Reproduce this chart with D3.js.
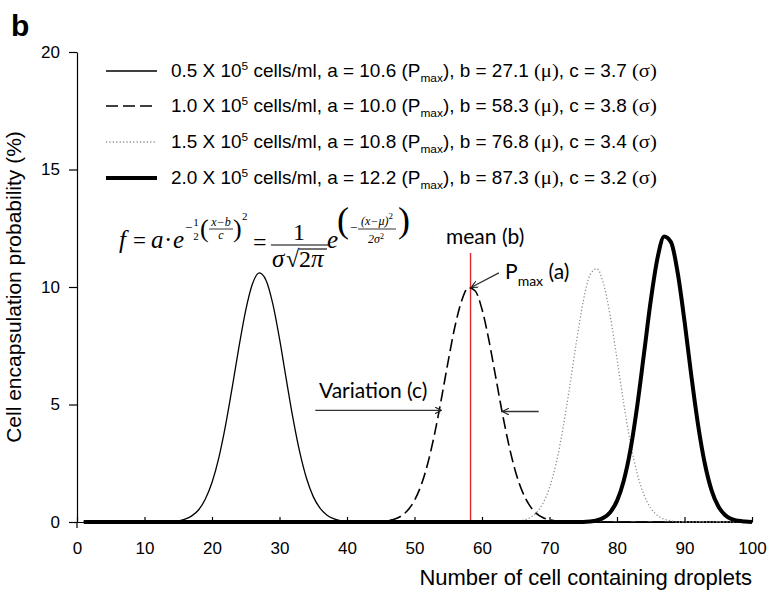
<!DOCTYPE html>
<html>
<head>
<meta charset="utf-8">
<script src="https://cdn.jsdelivr.net/npm/d3@7"></script>
<style>
  body { margin: 0; background: #fff; }
  svg { display: block; }
</style>
</head>
<body>
<script>
// legend rows
const densities  = ["0.5", "1.0", "1.5", "2.0"]
const paramA     = ["10.6", "10.0", "10.8", "12.2"]
const paramB     = ["27.1", "58.3", "76.8", "87.3"]
const paramC     = ["3.7", "3.8", "3.4", "3.2"]

// sampled curves, one point per droplet count, first x given
const start05 = 14
const vals05 = [0, 0.05, 0.12, 0.26, 0.51, 0.97, 1.68, 2.72, 4.10, 5.74, 7.46, 9.02, 10.14, 10.60,
                10.29, 9.29, 7.80, 6.08, 4.41, 2.97, 1.86, 1.08, 0.59, 0.30, 0.14, 0.06, 0.02, 0]
const start10 = 45
const vals10 = [0, 0.05, 0.12, 0.25, 0.50, 0.92, 1.58, 2.53, 3.78, 5.27, 6.86, 8.33, 9.43, 9.97,
                9.83, 9.05, 7.77, 6.22, 4.65, 3.25, 2.11, 1.28, 0.73, 0.38, 0.19, 0.09, 0.04, 0]
const start15 = 64
const vals15 = [0, 0.03, 0.07, 0.17, 0.38, 0.78, 1.46, 2.52, 3.99, 5.78, 7.69, 9.39, 10.51, 10.78,
                10.15, 8.76, 6.94, 5.04, 3.35, 2.05, 1.15, 0.59, 0.28, 0.12, 0.05, 0]
const start20 = 75
const vals20 = [0, 0.02, 0.07, 0.18, 0.42, 0.90, 1.76, 3.09, 4.95, 7.17, 9.42, 11.23, 12.15, 11.91,
                10.59, 8.55, 6.25, 4.15, 2.50, 1.36, 0.67, 0.30, 0.12, 0.05, 0.02, 0]

const xTicks = [0, 10, 20, 30, 40, 50, 60, 70, 80, 90, 100]
const yTicks = [0, 5, 10, 15, 20]

const width = 767, height = 593
const svg = d3.select("body").append("svg")
    .attr("width", width)
    .attr("height", height)

const x = d3.scaleLinear().domain([0, 100]).range([77, 752])
const y = d3.scaleLinear().domain([0, 20]).range([522, 52])

const SANS = "'Liberation Sans', Arial, sans-serif"
const SERIF = "'Liberation Serif', 'Times New Roman', serif"
const CAL = "Lato, Carlito, Calibri, sans-serif"

const styles = [
    { w: 1.3, dash: null, color: "#000" },
    { w: 1.6, dash: "12,5", color: "#000" },
    { w: 1.3, dash: "1.2,2.2", color: "#8c8c8c" },
    { w: 4, dash: null, color: "#000" }
]

const toPoints = (s, vals) => {
    const pts = vals.map((v, i) => [s + i, v])
    if (s > 1) pts.unshift([1, 0])
    if (s + vals.length - 1 < 100) pts.push([100, 0])
    return pts
}
const series = [
    toPoints(start05, vals05),
    toPoints(start10, vals10),
    toPoints(start15, vals15),
    toPoints(start20, vals20)
]

// axes
const xAxis = svg.append("g")
    .attr("transform", `translate(0,${y(0)})`)
    .call(d3.axisBottom(x).tickValues(xTicks).tickSizeInner(-5).tickSizeOuter(0).tickPadding(20))
const yAxis = svg.append("g")
    .attr("transform", `translate(${x(0)},0)`)
    .call(d3.axisLeft(y).tickValues(yTicks).tickSizeInner(8).tickSizeOuter(0).tickPadding(9))

svg.selectAll(".domain").attr("stroke", "#000").attr("stroke-width", 1.2)
svg.selectAll(".tick line").attr("stroke", "#000").attr("stroke-width", 1.2)
svg.selectAll(".tick text").attr("font-family", SANS).attr("font-size", 17).attr("fill", "#000")
xAxis.selectAll(".tick text").attr("dy", "0.71em")

// y axis pokes a bit below the baseline
svg.append("line")
    .attr("x1", x(0)).attr("x2", x(0))
    .attr("y1", y(0)).attr("y2", y(0) + 6)
    .attr("stroke", "#000").attr("stroke-width", 1.2)

// red mean line
svg.append("line")
    .attr("x1", x(58.3)).attr("x2", x(58.3))
    .attr("y1", y(0)).attr("y2", y(11.45))
    .attr("stroke", "#e3262d").attr("stroke-width", 1.4)

// curves
const line = d3.line()
    .x(d => x(d[0]))
    .y(d => y(d[1]))
    .curve(d3.curveMonotoneX)

svg.append("g").selectAll("path")
    .data(series)
    .enter()
    .append("path")
        .attr("d", line)
        .attr("fill", "none")
        .attr("stroke", (d, i) => styles[i].color)
        .attr("stroke-width", (d, i) => styles[i].w)
        .attr("stroke-dasharray", (d, i) => styles[i].dash)
        .attr("stroke-linejoin", "round")

// legend
const legendY = [71, 106, 142, 178]
const legend = svg.append("g")
densities.forEach((dens, i) => {
    legend.append("line")
        .attr("x1", 106).attr("x2", 157)
        .attr("y1", legendY[i]).attr("y2", legendY[i])
        .attr("stroke", styles[i].color)
        .attr("stroke-width", styles[i].w)
        .attr("stroke-dasharray", styles[i].dash)

    const t = legend.append("text")
        .attr("font-family", SANS)
        .attr("font-size", 17.5)
        .attr("fill", "#000")
    t.append("tspan").text(`${dens} X 10`)
    t.append("tspan").attr("font-size", 11).attr("dy", -7).text("5")
    t.append("tspan").attr("dy", 7).text(` cells/ml, a = ${paramA[i]} (P`)
    t.append("tspan").attr("font-size", 11).attr("dy", 5).text("max")
    t.append("tspan").attr("dy", -5).text(`), b = ${paramB[i]} `)
    t.append("tspan").attr("font-family", SERIF).attr("font-size", 19).text("(\u03bc)")
    t.append("tspan").text(`, c = ${paramC[i]} `)
    t.append("tspan").attr("font-family", SERIF).attr("font-size", 19).text("(\u03c3)")

    const w = t.node().getComputedTextLength()
    t.attr("transform", `translate(171,${legendY[i] + 6}) scale(${486 / w},1)`)
})

// axis titles
svg.append("text")
    .attr("transform", `translate(21,287) rotate(-90)`)
    .attr("text-anchor", "middle")
    .attr("font-family", SANS)
    .attr("font-size", 21)
    .text("Cell encapsulation probability (%)")

svg.append("text")
    .attr("x", 752).attr("y", 585)
    .attr("text-anchor", "end")
    .attr("font-family", SANS)
    .attr("font-size", 22)
    .text("Number of cell containing droplets")

svg.append("text")
    .attr("x", 11).attr("y", 36)
    .attr("font-family", SANS)
    .attr("font-weight", "bold")
    .attr("font-size", 30)
    .text("b")

// annotations
const defs = svg.append("defs")
defs.append("marker")
    .attr("id", "head")
    .attr("viewBox", "0 0 10 10")
    .attr("refX", 9).attr("refY", 5)
    .attr("markerWidth", 7).attr("markerHeight", 7)
    .attr("markerUnits", "userSpaceOnUse")
    .attr("orient", "auto")
    .append("path")
        .attr("d", "M0,0L10,5L0,10")
        .attr("fill", "none")
        .attr("stroke", "#222")
        .attr("stroke-width", 1.6)

const arrow = (x1, y1, x2, y2) => svg.append("line")
    .attr("x1", x(x1)).attr("y1", y(y1))
    .attr("x2", x(x2)).attr("y2", y(y2))
    .attr("stroke", "#333").attr("stroke-width", 1.4)
    .attr("marker-end", "url(#head)")

arrow(35.3, 4.75, 53.9, 4.75)
arrow(68.4, 4.7, 63.1, 4.7)
arrow(62.5, 10.6, 58.5, 10.0)

svg.append("text")
    .attr("x", 446).attr("y", 244)
    .attr("font-family", CAL).attr("font-size", 21)
    .text("mean (b)")

const pm = svg.append("text")
    .attr("x", 505).attr("y", 279)
    .attr("font-family", CAL).attr("font-size", 21)
pm.append("tspan").text("P")
pm.append("tspan").attr("font-size", 14).attr("dy", 7).text("max")
pm.append("tspan").attr("dy", -7).text(" (a)")

svg.append("text")
    .attr("x", 319).attr("y", 398)
    .attr("font-family", CAL).attr("font-size", 21)
    .text("Variation (c)")

// formula
const fm = svg.append("g").attr("font-family", SERIF).attr("fill", "#000")
const ft = (px, py, s, size, it, anchor) => fm.append("text")
    .attr("x", px).attr("y", py)
    .attr("font-size", size)
    .attr("font-style", it ? "italic" : "normal")
    .attr("text-anchor", anchor || "start")
    .text(s)
const fbar = (x1, x2, py, w) => fm.append("line")
    .attr("x1", x1).attr("x2", x2).attr("y1", py).attr("y2", py)
    .attr("stroke", "#000").attr("stroke-width", w || 0.8)
// text with a trailing superscript in one element
const fsup = (px, py, s, size, sup, supSize, rise) => {
    const t = fm.append("text")
        .attr("x", px).attr("y", py)
        .attr("font-size", size)
        .attr("font-style", "italic")
        .attr("text-anchor", "middle")
    t.append("tspan").text(s)
    t.append("tspan").attr("font-size", supSize).attr("font-style", "normal").attr("dy", -rise).text(sup)
}

ft(119, 248, "f", 25, true)
ft(133, 248, "=", 23, false)
ft(151, 248, "a", 25, true)
ft(164, 248, "\u00b7", 25, false)
ft(173, 248, "e", 25, true)
// first exponent
ft(185, 232, "\u2212", 13, false)
ft(196, 226, "1", 11, false, "middle")
ft(196, 240, "2", 11, false, "middle")
ft(200, 237, "(", 26, false)
ft(221, 226, "x\u2212b", 12, true, "middle")
fbar(209, 233, 229)
ft(221, 239, "c", 12, true, "middle")
ft(233, 237, ")", 26, false)
ft(242, 220, "2", 11, false)
// right side
ft(253, 250, "=", 24, false)
ft(299, 240, "1", 24, false, "middle")
fbar(271, 328, 245, 1.1)
ft(272, 267, "\u03c3", 25, true)
ft(286, 267, "\u221a", 24, false)
fbar(299, 327, 249, 1.1)
ft(299, 267, "2", 24, false)
ft(311, 267, "\u03c0", 25, true)
ft(327, 248, "e", 25, true)
// second exponent
ft(337, 232, "(", 36, false)
ft(350, 232, "\u2212", 13, false)
fsup(377, 225, "(x\u2212\u03bc)", 12, "2", 9, 6)
fbar(358, 396, 229)
fsup(376, 243, "2\u03c3", 12, "2", 8, 4)
ft(398, 232, ")", 36, false)
</script>
</body>
</html>
